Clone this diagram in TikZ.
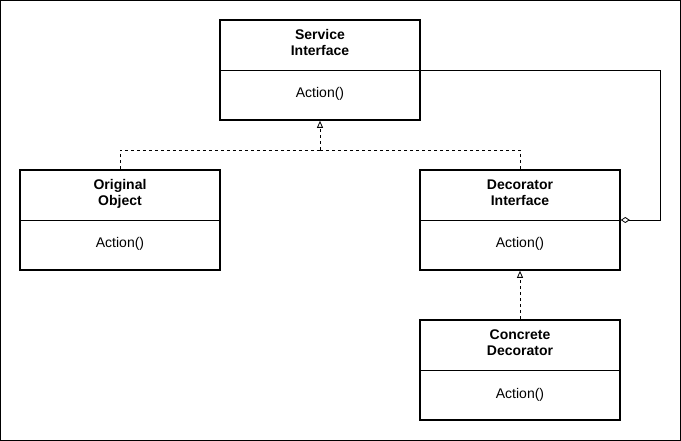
\documentclass[tikz,border=0pt]{standalone}
\usepackage{fontspec}
\setmainfont{Liberation Sans}
\usetikzlibrary{arrows.meta}
\begin{document}
\begin{tikzpicture}[x=1pt,y=-1pt,
  box/.style={draw,line width=1.6pt,minimum width=200pt,minimum height=100pt,inner sep=0pt},
  title/.style={font=\fontsize{14}{16}\selectfont\bfseries,align=center,anchor=base,inner sep=0pt},
  op/.style={font=\fontsize{14}{16}\selectfont,anchor=base,inner sep=0pt},
  conn/.style={line width=0.8pt},
  dep/.style={conn,dash pattern=on 3pt off 3pt,-{Triangle[open,length=7pt,width=6pt]}},
  agg/.style={conn,{Diamond[open,length=9pt,width=6pt]}-}]
\useasboundingbox (0,0) rectangle (681,441);
\draw[line width=1pt] (0.5,0.5) rectangle (680.5,440.5);
% boxes
\node[box] (si) at (320,70) {};
\node[box] (oo) at (120,220) {};
\node[box] (di) at (520,220) {};
\node[box] (cd) at (520,370) {};
\foreach \b in {si,oo,di,cd}{\draw[line width=0.8pt] (\b.west) -- (\b.east);}
\node[title] (sit) at (320,55.7) {Service\\Interface};
\node[op] (sio) at (320,98) {Action()};
\node[title] (oot) at (120,205.7) {Original\\Object};
\node[op] (ooo) at (120,248) {Action()};
\node[title] (dit) at (520,205.7) {Decorator\\Interface};
\node[op] (dio) at (520,248) {Action()};
\node[title] (cdt) at (520,355.7) {Concrete\\Decorator};
\node[op] (cdo) at (520,398) {Action()};
% connectors
\coordinate (mid) at (320,150);
\coordinate (rc) at (660,70);
\draw[conn,dash pattern=on 3pt off 3pt] (oo.north) |- (mid);
\draw[conn,dash pattern=on 3pt off 3pt] (di.north) |- (mid);
\draw[dep] (mid) -- (si.south);
\draw[dep] (cd.north) -- (di.south);
\draw[agg] (di.east) -| (rc) -- (si.east);
\end{tikzpicture}
\end{document}
